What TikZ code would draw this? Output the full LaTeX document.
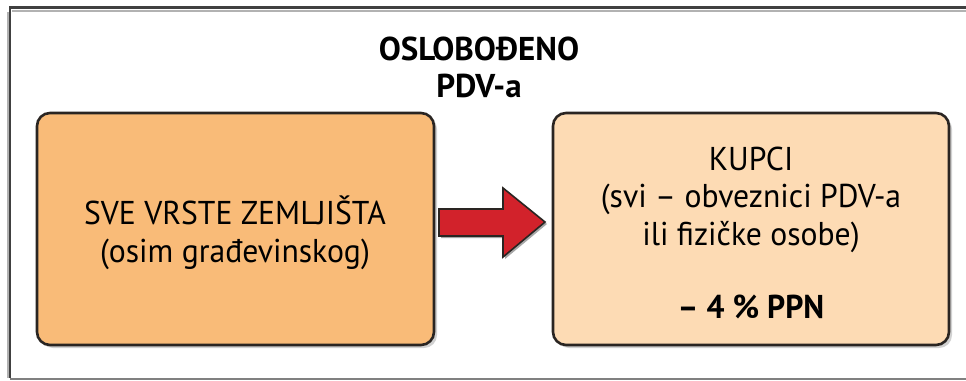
\documentclass[tikz,border=0pt]{standalone}
\usepackage{fontspec}
\setmainfont{PT Sans}
\newfontfamily\titlefont{PT Sans Bold}
\newfontfamily\bodyfont[FakeStretch=0.96]{PT Sans}
\newfontfamily\boldbody[FakeStretch=0.96]{PT Sans Bold}
\definecolor{boxA}{HTML}{F9BB78}
\definecolor{boxB}{HTML}{FDDBB4}
\definecolor{arrowred}{HTML}{D2222B}
\definecolor{edge}{HTML}{2A2522}
\tikzset{
  panel/.style={draw=edge, line width=2.6pt, rounded corners=13pt},
  boxtext/.style={align=center, font=\bodyfont\fontsize{33}{37.5}\selectfont, inner sep=0pt},
}
\begin{document}
\begin{tikzpicture}[x=1pt,y=-1pt]
\useasboundingbox (0,0) rectangle (966,380);
% outer frame
\fill[white] (0,0) rectangle (966,380);
\draw[line width=2.5pt, color=black!75] (10,378) -- (10,7.5) -- (970,7.5);
\draw[line width=2pt, color=black!30] (12,10.5) -- (970,10.5);
\draw[line width=2pt, color=black!30] (7.5,12) -- (7.5,378);
\draw[line width=2pt, color=black!50] (10,378.5) -- (970,378.5);
% title
\node[align=center, inner sep=0pt, font=\titlefont\fontsize{33}{37}\selectfont, anchor=base] (title) at (479,97) {OSLOBOĐENO\\PDV-a};
% shadows
\fill[black!18, rounded corners=13pt] (40,116) rectangle (437,348);
\fill[black!18, rounded corners=13pt] (556,116) rectangle (952,348);
% boxes
\draw[panel, fill=boxA] (37,113) rectangle (434,345);
\node (left) at (235.5,229) {};
\draw[panel, fill=boxB] (553,113) rectangle (949,345);
\node (right) at (751,229) {};
\node[boxtext, anchor=base] (ltext) at (235,262) {SVE VRSTE ZEMLJIŠTA\\(osim građevinskog)};
\node[boxtext, anchor=base] (rtext) at (751,318) {KUPCI\\(svi – obveznici PDV-a\\ili fizičke osobe)\\[35.5pt]{\boldbody – 4 \% PPN}};
% arrow
\fill[black!35] (441,211) -- (505,211) -- (505,190) -- (547,224) -- (505,259) -- (505,238) -- (441,238) -- cycle;
\draw[fill=arrowred, draw=edge, line width=1.6pt, line join=miter]
  (439,209) -- (503,209) -- (503,188) -- (545,222) -- (503,257) -- (503,236) -- (439,236) -- cycle;
\end{tikzpicture}
\end{document}
